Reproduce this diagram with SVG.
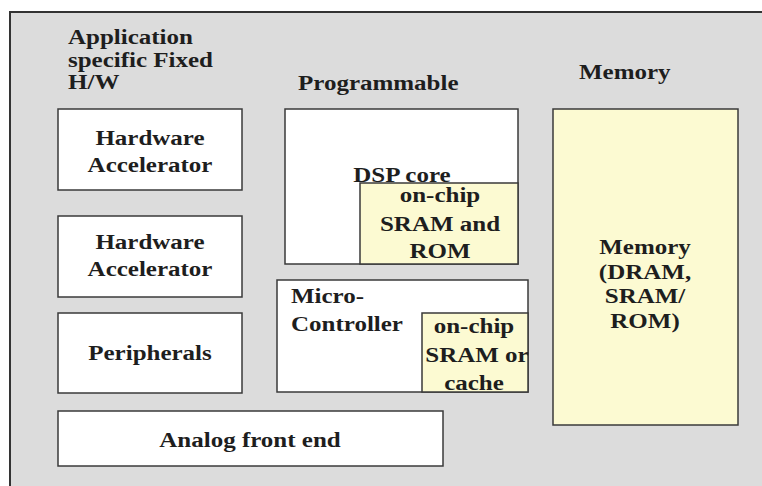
<svg xmlns="http://www.w3.org/2000/svg" width="762" height="486" viewBox="0 0 762 486">
<style>
.box{fill:#ffffff;stroke:#3a3a3a;stroke-width:1.5}
.mem{fill:#fcfad2;stroke:#3a3a3a;stroke-width:1.5}
.t{font-family:'Liberation Serif',serif;font-weight:bold;font-size:20px;fill:#1e1e1e}
.c{text-anchor:middle}
</style>
<rect x="0" y="0" width="762" height="486" fill="#ffffff"/>
<rect x="10" y="12" width="760" height="480" fill="#dcdcdc"/>
<path d="M10,486 V12 H762" fill="none" stroke="#333333" stroke-width="2"/>
<g id="heading-fixed">
<text class="t" transform="translate(68,44) scale(1.25,1)">Application</text>
<text class="t" transform="translate(68,67) scale(1.25,1)">specific Fixed</text>
<text class="t" transform="translate(68,89) scale(1.25,1)">H/W</text>
</g>
<g id="heading-programmable">
<text class="t" transform="translate(298,90) scale(1.25,1)">Programmable</text>
</g>
<g id="heading-memory">
<text class="t" transform="translate(579,79) scale(1.25,1)">Memory</text>
</g>
<g id="hw-accel-1">
<rect class="box" x="58" y="109" width="184" height="81"/>
<text class="t c" transform="translate(150,145) scale(1.25,1)">Hardware</text>
<text class="t c" transform="translate(150,172) scale(1.25,1)">Accelerator</text>
</g>
<g id="hw-accel-2">
<rect class="box" x="58" y="216" width="184" height="81"/>
<text class="t c" transform="translate(150,249) scale(1.25,1)">Hardware</text>
<text class="t c" transform="translate(150,276) scale(1.25,1)">Accelerator</text>
</g>
<g id="peripherals">
<rect class="box" x="58" y="313" width="184" height="80"/>
<text class="t c" transform="translate(150,360) scale(1.25,1)">Peripherals</text>
</g>
<g id="analog-front-end">
<rect class="box" x="58" y="411" width="385" height="55"/>
<text class="t c" transform="translate(250,447) scale(1.25,1)">Analog front end</text>
</g>
<g id="dsp-core">
<rect class="box" x="285" y="109" width="233" height="155"/>
<text class="t c" transform="translate(402,182) scale(1.25,1)">DSP core</text>
</g>
<g id="dsp-sram">
<rect class="mem" x="360" y="183" width="158" height="81"/>
<text class="t c" transform="translate(440,202) scale(1.25,1)">on-chip</text>
<text class="t c" transform="translate(440,231) scale(1.25,1)">SRAM and</text>
<text class="t c" transform="translate(440,258) scale(1.25,1)">ROM</text>
</g>
<g id="micro-controller">
<rect class="box" x="277" y="280" width="251" height="112"/>
<text class="t" transform="translate(291,303) scale(1.25,1)">Micro-</text>
<text class="t" transform="translate(291,331) scale(1.25,1)">Controller</text>
</g>
<g id="mc-sram">
<rect class="mem" x="422" y="313" width="106" height="79"/>
<text class="t c" transform="translate(474,333) scale(1.25,1)">on-chip</text>
<text class="t c" transform="translate(477,362) scale(1.25,1)">SRAM or</text>
<text class="t c" transform="translate(474,390) scale(1.25,1)">cache</text>
</g>
<g id="memory">
<rect class="mem" x="553" y="109" width="185" height="316"/>
<text class="t c" transform="translate(645,254) scale(1.25,1)">Memory</text>
<text class="t c" transform="translate(645,279) scale(1.25,1)">(DRAM,</text>
<text class="t c" transform="translate(645,303) scale(1.25,1)">SRAM/</text>
<text class="t c" transform="translate(645,328) scale(1.25,1)">ROM)</text>
</g>
<g id="connectors"></g>
</svg>
